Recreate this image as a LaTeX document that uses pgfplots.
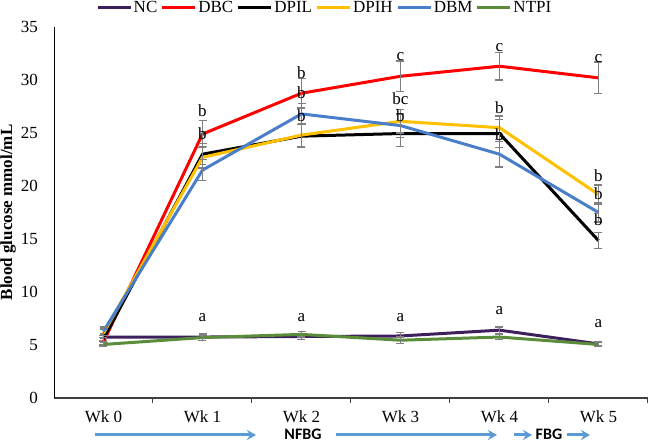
\documentclass[border=0pt]{standalone}
\usepackage{pgfplots}
\pgfplotsset{compat=1.18}
\usetikzlibrary{arrows.meta}
\usepackage{fontspec}
\setmainfont{Liberation Serif}
\newfontfamily\calibri{Carlito}
\definecolor{cNC}{HTML}{3D1F5C}
\definecolor{cDBC}{HTML}{FF0000}
\definecolor{cDPIL}{HTML}{000000}
\definecolor{cDPIH}{HTML}{FFC000}
\definecolor{cDBM}{HTML}{4A7EC9}
\definecolor{cNTPI}{HTML}{5B8C3A}
\definecolor{cArrow}{HTML}{5B9BD5}
\definecolor{cErr}{HTML}{7F7F7F}
\begin{document}
\fontsize{17}{20}\selectfont
\begin{tikzpicture}
\useasboundingbox (0,0) rectangle (649pt,443pt);
\begin{axis}[
  at={(54pt,45pt)}, anchor=south west,
  scale only axis, width=594pt, height=371pt,
  xmin=-0.5, xmax=5.5, ymin=0, ymax=35,
  axis x line*=bottom, axis y line*=left,
  xtick={0,1,2,3,4,5},
  xticklabels={Wk 0,Wk 1,Wk 2,Wk 3,Wk 4,Wk 5},
  ytick={0,5,10,15,20,25,30,35},
  major tick length=0pt,
  minor xtick={0.5,1.5,2.5,3.5,4.5,5.5},
  minor tick length=5pt,
  tick align=outside,
  minor x tick style={draw=black!75, line width=1pt},
  /pgf/number format/assume math mode=true,
  x axis line style={draw=black!75, line width=1.2pt},
  y axis line style={draw=black, line width=1pt},
  yticklabel style={inner sep=0pt, anchor=east, xshift=-16pt},
  xticklabel style={inner sep=0pt, anchor=north, yshift=-13pt},
  clip=false,
  legend columns=-1,
  legend style={at={(0.4554,1.0512)}, anchor=center, draw=none, fill=none,
    inner xsep=0pt, inner ysep=0pt,
    nodes={inner xsep=1.5pt, inner ysep=0pt},
    /tikz/every even column/.append style={column sep=2pt}},
  legend image code/.code={\draw[#1, line width=3pt] (0pt,0pt) -- (33pt,0pt);},
  every axis plot/.append style={mark=none, line width=3pt},
  error bars/error bar style={color=cErr, line width=1.3pt},
  error bars/error mark options={rotate=90, mark size=4pt, color=cErr, line width=1.3pt},
]
\addplot[color=cNC, error bars/.cd, y dir=both, y explicit] coordinates {
  (0,5.75) +- (0,0.3) (1,5.75) +- (0,0.3) (2,5.8) +- (0,0.3)
  (3,5.85) +- (0,0.3) (4,6.4) +- (0,0.3) (5,5.1) +- (0,0.2)};
\addlegendentry{NC}
\addplot[color=cDBC, error bars/.cd, y dir=both, y explicit] coordinates {
  (0,5.3) +- (0,0.3) (1,24.9) +- (0,1.3) (2,28.75) +- (0,1.4)
  (3,30.35) +- (0,1.45) (4,31.3) +- (0,1.3) (5,30.2) +- (0,1.5)};
\addlegendentry{DBC}
\addplot[color=cDPIL, error bars/.cd, y dir=both, y explicit] coordinates {
  (0,5.6) +- (0,0.3) (1,23.0) +- (0,1.0) (2,24.7) +- (0,1.1)
  (3,24.95) +- (0,1.2) (4,24.95) +- (0,1.3) (5,14.85) +- (0,0.75)};
\addlegendentry{DPIL}
\addplot[color=cDPIH, error bars/.cd, y dir=both, y explicit] coordinates {
  (0,6.1) +- (0,0.4) (1,22.7) +- (0,1.0) (2,24.8) +- (0,1.1)
  (3,26.1) +- (0,1.1) (4,25.5) +- (0,1.1) (5,19.2) +- (0,0.9)};
\addlegendentry{DPIH}
\addplot[color=cDBM, error bars/.cd, y dir=both, y explicit] coordinates {
  (0,6.3) +- (0,0.4) (1,21.5) +- (0,1.0) (2,26.8) +- (0,1.0)
  (3,25.7) +- (0,1.1) (4,23.0) +- (0,1.2) (5,17.5) +- (0,0.9)};
\addlegendentry{DBM}
\addplot[color=cNTPI, error bars/.cd, y dir=both, y explicit] coordinates {
  (0,5.05) +- (0,0.2) (1,5.7) +- (0,0.25) (2,6.0) +- (0,0.25)
  (3,5.45) +- (0,0.3) (4,5.75) +- (0,0.25) (5,5.05) +- (0,0.2)};
\addlegendentry{NTPI}
% significance letters
\node at (axis cs:1,27.1) {b};
\node at (axis cs:1,24.9) {b};
\node at (axis cs:2,30.7) {b};
\node at (axis cs:2,28.8) {b};
\node at (axis cs:2,26.6) {b};
\node at (axis cs:3,32.2) {c};
\node at (axis cs:3,28.2) {bc};
\node at (axis cs:3,26.6) {b};
\node at (axis cs:4,33.1) {c};
\node at (axis cs:4,27.4) {b};
\node at (axis cs:4,24.8) {b};
\node at (axis cs:5,32.0) {c};
\node at (axis cs:5,21.0) {b};
\node at (axis cs:5,19.3) {b};
\node at (axis cs:5,16.8) {b};
\node at (axis cs:1,7.6) {a};
\node at (axis cs:2,7.6) {a};
\node at (axis cs:3,7.6) {a};
\node at (axis cs:4,8.2) {a};
\node at (axis cs:5,7.0) {a};
\end{axis}
\node[rotate=90, font=\bfseries] at (8pt,230.5pt) {Blood glucose mmol/mL};
\begin{scope}[cArrow, line width=3pt, -{Stealth[length=9pt,width=10pt]}]
\draw (95pt,8pt) -- (256pt,8pt);
\draw (336pt,8pt) -- (497pt,8pt);
\draw (514pt,8pt) -- (532pt,8pt);
\draw (567pt,8pt) -- (590pt,8pt);
\end{scope}
\node[font=\fontsize{16}{18}\calibri\bfseries, inner sep=0pt] at (303pt,8.5pt) {NFBG};
\node[font=\fontsize{16}{18}\calibri\bfseries, inner sep=0pt] at (549pt,8.5pt) {FBG};
\end{tikzpicture}
\end{document}
